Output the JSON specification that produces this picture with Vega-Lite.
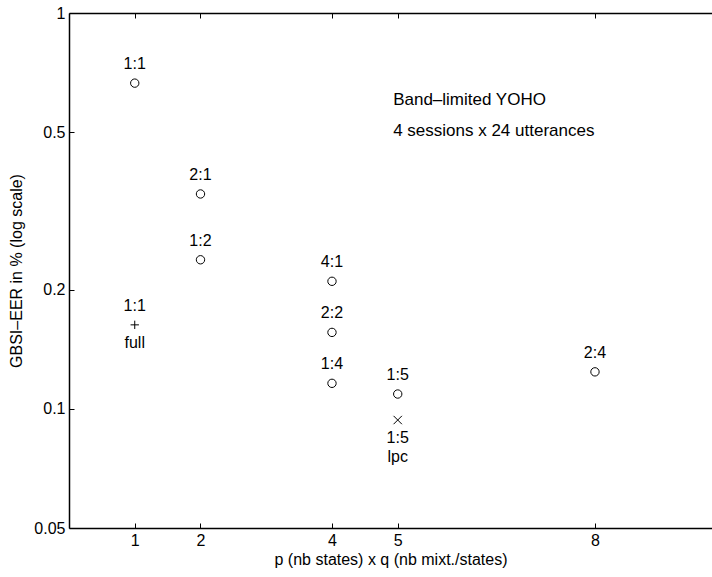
{
  "$schema": "https://vega.github.io/schema/vega-lite/v6.json",
  "autosize": "none",
  "width": 643,
  "height": 515,
  "padding": {"left": 69, "top": 13, "right": 0, "bottom": 49},
  "background": "white",
  "config": {
    "view": {"stroke": null},
    "font": "Liberation Sans",
    "axis": {
      "domain": true,
      "ticks": true,
      "domainColor": "#000000",
      "domainWidth": 1.5,
      "domainOpacity": 1,
      "tickColor": "#000000",
      "tickWidth": 1,
      "tickOpacity": 1,
      "tickSize": -5,
      "labelColor": "black",
      "labelFont": "Liberation Sans",
      "labelFontSize": 16,
      "titleFont": "Liberation Sans",
      "titleFontSize": 16,
      "titleFontWeight": "normal",
      "titleColor": "black",
      "grid": false
    }
  },
  "datasets": {
    "pts": [
      {"n": 1, "eer": 0.665, "kind": "circle", "above": "1:1", "below1": "", "below2": ""},
      {"n": 2, "eer": 0.349, "kind": "circle", "above": "2:1", "below1": "", "below2": ""},
      {"n": 2, "eer": 0.238, "kind": "circle", "above": "1:2", "below1": "", "below2": ""},
      {"n": 4, "eer": 0.21, "kind": "circle", "above": "4:1", "below1": "", "below2": ""},
      {"n": 4, "eer": 0.156, "kind": "circle", "above": "2:2", "below1": "", "below2": ""},
      {"n": 4, "eer": 0.116, "kind": "circle", "above": "1:4", "below1": "", "below2": ""},
      {"n": 5, "eer": 0.109, "kind": "circle", "above": "1:5", "below1": "", "below2": ""},
      {"n": 8, "eer": 0.124, "kind": "circle", "above": "2:4", "below1": "", "below2": ""},
      {"n": 1, "eer": 0.163, "kind": "plus", "above": "1:1", "below1": "full", "below2": ""},
      {"n": 5, "eer": 0.0937, "kind": "x", "above": "", "below1": "1:5", "below2": "lpc"}
    ],
    "notes": [
      {"n": 4.93, "eer": 0.603, "text": "Band\u2013limited YOHO"},
      {"n": 4.93, "eer": 0.503, "text": "4 sessions x 24 utterances"}
    ]
  },
  "resolve": {"axis": {"x": "independent", "y": "independent"}},
  "layer": [
    {
      "data": {"name": "pts"},
      "mark": {"type": "point", "filled": false, "stroke": "black", "strokeWidth": 1, "opacity": 1},
      "encoding": {
        "x": {"field": "n", "type": "quantitative", "scale": {"domain": [0, 9.78], "nice": false, "zero": false},
          "axis": {"values": [1, 2, 4, 5, 8], "title": "p (nb states) x q (nb mixt./states)", "labelPadding": 9, "titlePadding": 3, "format": "d"}},
        "y": {"field": "eer", "type": "quantitative", "scale": {"type": "log", "domain": [0.05, 1], "nice": false},
          "axis": {"values": [0.05, 0.1, 0.2, 0.5, 1], "title": "GBSI\u2013EER in % (log scale)", "labelPadding": 9, "titlePadding": 9, "format": "~g"}},
        "shape": {"field": "kind", "type": "nominal", "legend": null,
          "scale": {"domain": ["circle", "plus", "x"], "range": ["circle", "M-1,0L1,0M0,-1L0,1", "M-1,-1L1,1M-1,1L1,-1"]}},
        "size": {"value": 70}
      }
    },
    {
      "data": {"name": "pts"},
      "mark": {"type": "text", "fontSize": 16, "color": "black", "baseline": "middle", "align": "center", "dy": -19},
      "encoding": {
        "x": {"field": "n", "type": "quantitative", "axis": {"orient": "top", "values": [1, 2, 4, 5, 8], "labels": false, "title": null}},
        "y": {"field": "eer", "type": "quantitative", "axis": null},
        "text": {"field": "above"}
      }
    },
    {
      "data": {"name": "pts"},
      "mark": {"type": "text", "fontSize": 16, "color": "black", "baseline": "middle", "align": "center", "dy": 18},
      "encoding": {
        "x": {"field": "n", "type": "quantitative", "axis": null},
        "y": {"field": "eer", "type": "quantitative", "axis": null},
        "text": {"field": "below1"}
      }
    },
    {
      "data": {"name": "pts"},
      "mark": {"type": "text", "fontSize": 16, "color": "black", "baseline": "middle", "align": "center", "dy": 37},
      "encoding": {
        "x": {"field": "n", "type": "quantitative", "axis": null},
        "y": {"field": "eer", "type": "quantitative", "axis": null},
        "text": {"field": "below2"}
      }
    },
    {
      "data": {"name": "notes"},
      "mark": {"type": "text", "fontSize": 17, "color": "black", "baseline": "middle", "align": "left"},
      "encoding": {
        "x": {"field": "n", "type": "quantitative", "axis": null},
        "y": {"field": "eer", "type": "quantitative", "axis": null},
        "text": {"field": "text"}
      }
    }
  ]
}
